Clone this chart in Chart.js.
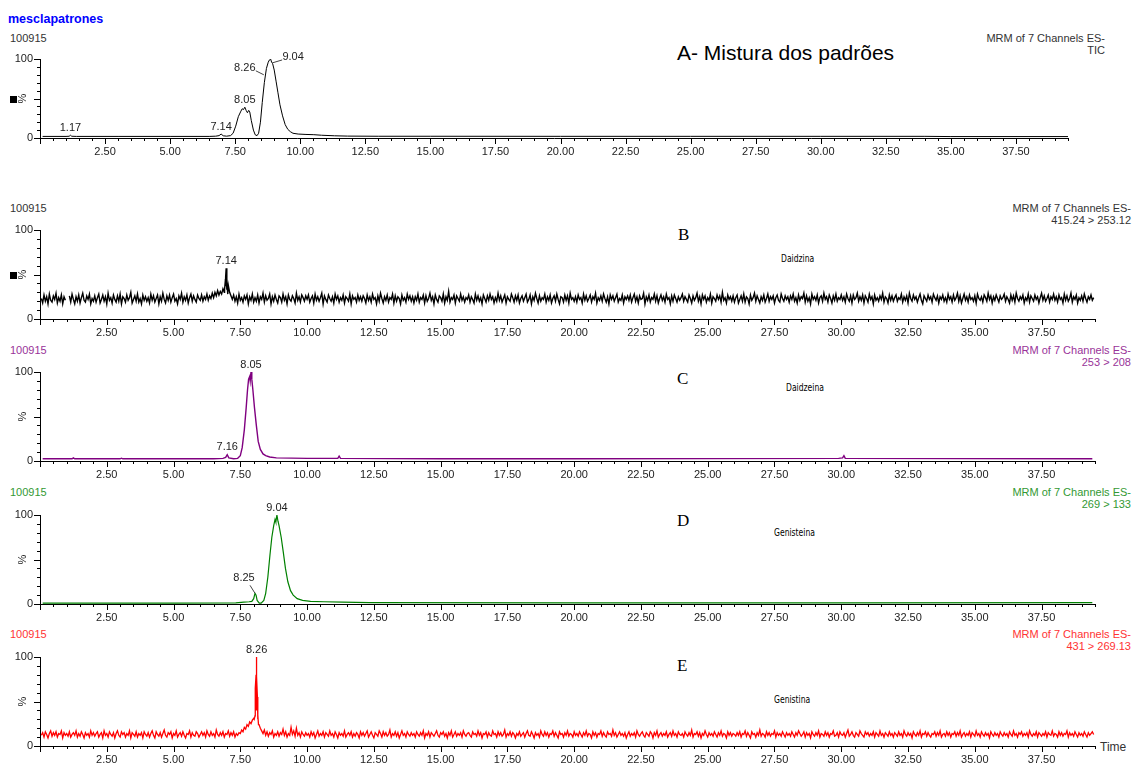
<!DOCTYPE html>
<html>
<head>
<meta charset="utf-8">
<script src="https://cdn.jsdelivr.net/npm/chart.js@4/dist/chart.umd.min.js"></script>
<style>
  body { margin: 0; background: #fff; width: 1132px; height: 764px; position: relative; overflow: hidden;
         font-family: "Liberation Sans", Arial, sans-serif; }
  .t { position: absolute; white-space: nowrap; font-size: 11px; line-height: 12px; color: #333; }
  .r { text-align: right; }
  .big { font-size: 21px; line-height: 22px; color: #000; }
  .letter { font-family: "Liberation Serif", "Times New Roman", serif; font-size: 17px; line-height: 18px; color: #000; }
  .cmp { font-family: "Liberation Sans Narrow", "DejaVu Sans Condensed", sans-serif; font-size: 10px; color: #000; transform: scaleX(0.85); transform-origin: left; }
  canvas { position: absolute; left: 0; }
</style>
</head>
<body>

<div class="t" style="left:8px;top:13px;font-size:12.5px;font-weight:bold;color:#0000ff">mesclapatrones</div>
<div class="t" style="left:10px;top:32px">100915</div>
<div class="t big" style="left:677px;top:42px">A- Mistura dos padrões</div>
<div class="t r" style="right:27px;top:32px">MRM of 7 Channels ES-<br>TIC</div>

<div class="t" style="left:10px;top:202px">100915</div>
<div class="t r" style="right:1px;top:202px">MRM of 7 Channels ES-<br>415.24 &gt; 253.12</div>
<div class="t letter" style="left:678px;top:226px">B</div>
<div class="t cmp" style="left:781px;top:253px">Daidzina</div>

<div class="t" style="left:10px;top:344px;color:#993399">100915</div>
<div class="t r" style="right:1px;top:344px;color:#993399">MRM of 7 Channels ES-<br>253 &gt; 208</div>
<div class="t letter" style="left:677px;top:370px">C</div>
<div class="t cmp" style="left:786px;top:382px">Daidzeina</div>

<div class="t" style="left:10px;top:486px;color:#339933">100915</div>
<div class="t r" style="right:1px;top:486px;color:#339933">MRM of 7 Channels ES-<br>269 &gt; 133</div>
<div class="t letter" style="left:677px;top:512px">D</div>
<div class="t cmp" style="left:774px;top:527px">Genisteina</div>

<div class="t" style="left:10px;top:628px;color:#ff3333">100915</div>
<div class="t r" style="right:1px;top:628px;color:#ff3333">MRM of 7 Channels ES-<br>431 &gt; 269.13</div>
<div class="t letter" style="left:677px;top:657px">E</div>
<div class="t cmp" style="left:774px;top:694px">Genistina</div>
<div class="t" style="left:1100px;top:741px;font-size:12px">Time</div>

<canvas id="cA"></canvas>
<canvas id="cB"></canvas>
<canvas id="cC"></canvas>
<canvas id="cD"></canvas>
<canvas id="cE"></canvas>

<script>
// time axis
const timeMin = 0;
const timeMax = 39.5;
const noiseStart = 0.05;   // first scan of the noisy traces
const noiseStep = 0.05;

// A - TIC
const aTime = [0.1, 1.0, 1.12, 1.17, 1.22, 1.4, 3, 5, 6.5, 6.75, 6.88, 6.96, 7.04, 7.17, 7.32, 7.42, 7.52, 7.62, 7.72, 7.77,
  7.82, 7.87, 7.92, 7.97, 8.02, 8.06, 8.12, 8.2, 8.27, 8.34, 8.4, 8.47, 8.54, 8.62, 8.7, 8.77, 8.82, 8.86, 8.9, 8.94,
  9.0, 9.07, 9.14, 9.22, 9.32, 9.42, 9.52, 9.62, 9.72, 9.92, 10.22, 10.52, 10.82, 11.32, 11.82, 13, 15, 20, 25, 30, 34, 35, 39.5];
const aVal = [2, 2, 2.2, 3.5, 2.2, 2, 2, 2, 2, 2.3, 3, 5, 2.8, 2.3, 3, 6, 15, 27, 34, 37,
  36, 39, 35, 32, 35, 33, 22, 10, 4, 3, 6, 20, 45, 70, 88, 96, 99, 100, 96, 94,
  86, 72, 58, 42, 28, 17, 11, 8, 6, 5, 4.5, 4.2, 3.5, 2.8, 2.4, 2.2, 2.2, 2.1, 2.1, 2.1, 2.1, 1.8, 1.8];

// B - 415.24 > 253.12 (Daidzina), one value per 0.05 min, 2 min per row
const bNoise = [
  23,18,27,20,25,17,28,21,19,26,22,29,18,24,20,27,17,25,21,null,null,26,19,28,22,17,25,20,27,18,24,29,21,19,26,22,28,17,23,20,
  26,19,24,28,18,22,27,20,25,17,29,21,24,18,27,22,19,26,20,28,17,25,23,19,27,21,24,30,18,22,26,20,28,19,23,17,27,21,25,20,
  24,18,28,21,26,19,23,27,17,25,20,29,22,18,26,21,27,19,24,28,20,23,17,26,22,29,19,25,21,27,18,24,28,20,26,22,19,27,23,21,
  27,20,25,22,28,21,26,23,29,24,30,26,32,27,31,28,34,30,37,33,38,30,26,22,27,20,25,18,28,21,24,19,26,22,27,17,25,21,28,19,
  24,20,27,18,25,22,29,19,26,21,23,28,17,25,20,27,22,18,26,24,19,28,21,25,17,27,22,20,26,23,18,29,21,25,19,27,24,20,26,22,
  27,19,23,26,18,28,21,25,20,24,29,17,26,22,19,27,23,20,25,18,28,22,26,19,24,21,27,18,25,23,20,28,17,26,22,24,19,27,21,25,
  20,26,23,18,27,21,25,19,28,22,24,17,26,20,29,23,18,25,21,27,19,24,22,28,18,26,20,25,23,17,27,21,24,19,28,22,26,20,25,18,
  25,21,28,19,24,22,27,18,26,20,23,29,21,25,17,27,22,19,26,24,20,28,18,25,21,31,19,24,22,27,18,26,23,20,28,21,25,19,24,22,
  27,19,25,22,18,28,21,26,20,24,17,27,23,19,26,21,28,22,25,18,24,20,29,21,26,19,23,27,18,25,22,20,28,24,19,26,21,27,18,23,
  26,20,24,28,19,22,27,17,25,21,29,23,18,26,20,24,22,28,19,25,21,27,18,23,26,20,28,22,17,25,24,19,27,21,26,18,29,22,24,20,
  25,19,27,22,24,18,28,21,26,20,23,27,19,25,22,29,18,24,21,26,20,28,23,19,25,17,27,22,26,20,24,28,19,23,21,27,18,25,22,26,
  21,27,19,24,28,20,25,18,26,22,23,29,17,25,21,27,19,24,22,28,20,26,18,23,27,21,25,19,28,22,24,17,26,20,27,23,19,25,21,24,
  28,20,25,22,19,27,23,18,26,21,24,29,20,25,17,27,22,26,19,24,21,28,18,25,23,20,27,22,26,19,30,21,24,18,27,22,25,20,26,19,
  24,27,18,22,26,20,28,19,25,23,17,27,21,24,29,20,26,22,18,25,21,27,19,23,28,20,25,22,26,18,24,27,21,19,28,23,20,26,22,25,
  19,26,22,28,20,24,18,27,21,25,23,29,19,26,20,24,17,28,22,25,21,27,18,24,26,20,29,22,25,19,27,23,18,26,21,28,20,24,22,27,
  21,25,19,28,23,20,26,18,27,22,24,29,20,25,21,27,18,26,23,19,28,22,25,17,27,21,24,20,26,22,29,19,25,23,18,27,21,26,20,24,
  27,20,24,22,28,19,25,21,26,18,29,23,20,27,22,25,19,24,28,21,17,26,23,20,27,22,25,19,28,24,21,26,18,25,22,27,20,24,19,28,
  22,25,19,27,21,24,29,20,26,18,23,28,21,25,19,27,22,24,20,26,18,28,23,21,25,19,27,24,20,29,22,26,18,25,21,27,23,19,26,22,
  24,28,20,25,22,18,27,21,26,19,29,23,20,25,22,27,18,24,21,28,19,26,23,20,27,22,25,18,24,29,21,26,20,23,27,19,25,22,28,21,
  25,19,27,22,24,18,28,21,26,20,23,29,19,25,22,27,18,24,21,26,20,28,23,19,25,22,27,21,24];
const bPeakT = [6.91, 6.93, 6.95, 6.97, 6.99, 7.01, 7.03];
const bPeakV = [33, 40, 47, 57, 42, 36, 28];

// C - 253 > 208 (Daidzeina)
const cTime = [0.1, 1.2, 1.25, 1.3, 3.0, 3.05, 3.1, 6.5, 6.85, 6.95, 7.01, 7.07, 7.25, 7.4, 7.5, 7.57, 7.65, 7.72, 7.77, 7.81,
  7.85, 7.87, 7.9, 7.93, 7.97, 8.03, 8.1, 8.17, 8.25, 8.35, 8.45, 8.6, 8.85, 10, 11.15, 11.2, 11.25, 15, 20, 29.9,
  30.05, 30.1, 30.15, 39.4];
const cVal = [2.5, 2.5, 3.5, 2.5, 2.5, 3.2, 2.5, 2.5, 3, 4, 7, 3.5, 2.5, 3, 6, 15, 35, 60, 80, 92,
  95, 90, 100, 92, 80, 60, 40, 22, 13, 8, 6, 4.5, 3.5, 3, 3, 5.5, 3, 2.5, 2.5, 3,
  3.5, 6, 3, 2.5];

// D - 269 > 133 (Genisteina)
const dTime = [0.1, 5, 7.33, 7.63, 7.83, 7.93, 8.0, 8.05, 8.09, 8.13, 8.21, 8.28, 8.38, 8.45, 8.53, 8.61, 8.68, 8.75, 8.8, 8.83,
  8.87, 8.91, 8.95, 9.03, 9.11, 9.19, 9.28, 9.38, 9.48, 9.63, 9.83, 10.13, 10.63, 11.33, 12.33, 20, 30, 39.4];
const dVal = [1, 1, 1.2, 2, 2.5, 3, 6, 12, 10, 4, 1, 1, 4, 12, 30, 55, 75, 88, 95, 92,
  100, 93, 88, 75, 58, 40, 25, 15, 10, 6, 4, 3, 2.5, 2, 1.5, 1.2, 1.2, 1.5];

// E - 431 > 269.13 (Genistina), one value per 0.05 min, 2 min per row
const eNoise = [
  12,15,10,16,13,9,14,17,11,15,12,16,10,14,13,17,9,15,12,14,11,16,10,13,15,12,17,10,14,11,16,13,9,15,12,14,10,17,12,15,
  11,14,16,10,13,15,9,17,12,14,10,16,13,11,15,9,14,17,12,10,16,13,15,10,14,12,17,9,15,13,11,16,10,14,12,15,9,16,13,11,
  15,10,14,17,12,9,16,13,11,15,10,14,18,12,10,15,13,16,9,14,12,17,10,13,15,11,16,12,9,14,13,17,10,15,12,11,16,14,10,13,
  16,12,15,10,17,13,11,16,12,14,10,18,13,11,15,12,16,10,14,13,17,11,15,12,16,10,14,12,15,14,18,16,21,19,24,22,27,25,29,31,
  34,40,30,24,20,17,14,18,12,16,11,15,13,17,10,14,12,16,11,15,13,19,12,16,10,14,12,21,13,17,11,20,12,15,10,16,13,11,15,12,
  14,10,16,12,15,9,13,17,11,14,12,16,10,15,13,11,17,12,14,10,16,13,9,15,12,14,11,17,10,13,15,12,16,10,14,11,15,13,9,16,
  12,15,11,14,17,10,13,16,12,9,15,13,11,17,14,10,16,12,15,11,13,18,10,14,12,16,11,15,9,13,17,12,14,10,16,13,11,15,12,14,
  10,16,13,11,15,12,17,9,14,12,16,10,15,13,11,14,17,12,10,15,13,16,11,14,9,15,12,17,10,13,16,11,14,12,15,10,17,13,11,14,
  15,12,10,16,13,14,11,17,12,15,9,14,13,16,10,15,12,11,17,13,14,10,16,12,15,11,13,18,10,14,12,16,11,15,13,9,14,12,16,11,
  13,15,10,14,17,12,11,16,13,9,15,12,14,10,17,13,11,16,12,15,10,14,13,17,11,15,12,9,16,13,14,10,15,12,17,11,14,13,10,16,
  12,14,11,16,13,10,15,12,17,11,14,13,9,16,12,15,10,14,13,17,11,15,12,10,16,13,14,11,18,12,15,10,13,16,12,14,11,15,9,13,
  16,11,14,12,15,10,17,13,11,14,16,12,10,15,13,11,16,14,9,15,12,17,10,13,15,11,14,12,16,10,13,15,11,17,12,14,10,16,13,12,
  14,10,16,13,11,15,12,18,10,14,13,16,11,15,9,14,12,17,13,10,15,12,14,11,16,13,10,15,12,17,11,14,13,9,16,12,15,11,14,13,
  11,15,12,16,10,14,13,17,11,15,12,9,16,13,14,10,15,12,18,11,14,13,10,16,12,15,11,14,13,17,10,15,12,14,11,16,13,10,15,12,
  14,11,16,13,10,15,12,17,14,11,13,16,10,15,12,14,9,16,13,11,15,12,17,10,14,13,11,16,12,15,10,14,13,17,11,12,15,10,16,13,
  12,15,10,14,18,11,13,16,12,10,15,13,11,17,14,12,10,16,13,15,11,14,12,16,10,15,13,11,17,12,14,10,15,13,11,16,12,14,10,15,
  13,11,16,12,14,10,17,13,11,15,12,14,9,16,13,11,15,12,17,10,14,13,16,11,15,12,10,14,13,16,11,15,12,17,10,13,14,11,16,12,
  15,10,14,13,16,11,15,12,17,10,13,15,11,14,12,16,10,15,13,11,17,12,14,10,16,13,11,15,12,14,9,16,13,11,15,12,14,10,16,13,
  11,15,12,14,10,16,13,11,17,12,14,10,15,13,16,11,14,12,15,10,17,13,11,14,12,16,10,15,13,11,14,12,16,10,15,13,12,17,11,14,
  13,10,16,12,15,11,14,13,17,10,15,12,14,11,16,13,10,15,12,14,11,16,13,10,15,12,14,16,13];
const ePeakT = [8.02, 8.05, 8.07, 8.09, 8.1, 8.11, 8.12, 8.14, 8.16, 8.18];
const ePeakV = [30, 50, 65, 80, 90, 100, 78, 55, 35, 24];

// peak labels: retention time text, anchor time, anchor height
const aPeakText = ['1.17', '7.14', '8.05', '8.26', '9.04'];
const aPeakT = [1.17, 6.96, 7.87, 8.6, 8.92];
const aPeakV = [3.5, 5, 39, 80, 95];
const bPeakText = ['7.14'];
const bLabelT = [6.97];
const bLabelV = [57];
const cPeakText = ['7.16', '8.05'];
const cPeakT = [7.01, 7.9];
const cPeakV = [7, 100];
const dPeakText = ['8.25', '9.04'];
const dPeakT = [8.05, 8.87];
const dPeakV = [12, 100];
const ePeakText = ['8.26'];
const eLabelT = [8.11];
const eLabelV = [100];

// label offsets (layout only)
const leaders = {
  'A8.26': { dx: -19, dy: -7, lx: -8, ly: -4 },
  'A9.04': { dx: 21, dy: -6, lx: 10, ly: -3 },
  'D8.25': { dx: -11, dy: -15, lx: -5, ly: -8 }
};

function pts(t, v) { return t.map((x, i) => ({ x: x, y: v[i] })); }
function noisePts(vals, peakT, peakV) {
  const p = vals.map((v, i) => ({ x: +(noiseStart + i * noiseStep).toFixed(2), y: v }));
  return p.concat(pts(peakT, peakV)).sort((a, b) => a.x - b.x);
}
function peaks(id, text, t, v) {
  return text.map((s, i) => Object.assign({ text: s, t: t[i], v: v[i] }, leaders[id + s] || {}));
}

const tickPlugin = {
  id: 'msTicks',
  afterDraw(chart, args, opts) {
    const ctx = chart.ctx, a = chart.chartArea, xs = chart.scales.x, ys = chart.scales.y;
    ctx.save();
    ctx.strokeStyle = '#000';
    ctx.lineWidth = 1;
    ctx.beginPath();
    xs.ticks.forEach(t => {
      const px = Math.round(xs.getPixelForValue(t.value)) + 0.5;
      const len = Math.abs(t.value / 2.5 - Math.round(t.value / 2.5)) < 1e-6 ? 6 : 3;
      ctx.moveTo(px, a.bottom); ctx.lineTo(px, a.bottom + len);
    });
    ys.ticks.forEach(t => {
      const py = Math.round(ys.getPixelForValue(t.value)) + 0.5;
      const len = t.value % 50 === 0 ? 6 : 3;
      ctx.moveTo(a.left - len, py); ctx.lineTo(a.left, py);
    });
    ctx.stroke();
    // % label at mid axis
    const pm = ys.getPixelForValue(50);
    ctx.fillStyle = '#222';
    ctx.font = '11px "Liberation Sans", Arial, sans-serif';
    ctx.translate(a.left - 17, pm);
    ctx.rotate(-Math.PI / 2);
    ctx.textAlign = 'center';
    ctx.textBaseline = 'middle';
    ctx.fillText('%', 0, 0);
    ctx.restore();
    if (opts.square) {
      ctx.save();
      ctx.fillStyle = '#000';
      ctx.fillRect(10, Math.round(pm) - 3, 7, 7);
      ctx.restore();
    }
    // peak labels
    ctx.save();
    ctx.font = '11px "Liberation Sans", Arial, sans-serif';
    ctx.fillStyle = '#222';
    ctx.strokeStyle = '#444';
    ctx.textAlign = 'center';
    (opts.peaks || []).forEach(p => {
      const px = xs.getPixelForValue(p.t), py = ys.getPixelForValue(p.v);
      if (p.dx !== undefined) {
        ctx.textBaseline = 'middle';
        ctx.fillText(p.text, px + p.dx, py + p.dy);
        ctx.beginPath();
        ctx.moveTo(px + p.lx, py + p.ly);
        ctx.lineTo(px, py);
        ctx.stroke();
      } else {
        ctx.textBaseline = 'bottom';
        ctx.fillText(p.text, px, py - 2);
      }
    });
    ctx.restore();
  }
};

const TOPM = 24;
function panel(id, top, bottom, right, color, width, data, pk, square) {
  const cv = document.getElementById(id);
  const h = bottom - top + TOPM + 24;
  cv.width = 1132; cv.height = h;
  cv.style.top = (top - TOPM) + 'px';
  new Chart(cv, {
    type: 'line',
    data: { datasets: [{ data: data, borderColor: color, borderWidth: width, pointRadius: 0, tension: 0, spanGaps: false }] },
    options: {
      responsive: false, animation: false, events: [],
      layout: { padding: { top: TOPM, right: 1132 - right, left: 0, bottom: 0 } },
      plugins: { legend: { display: false }, tooltip: { enabled: false }, msTicks: { peaks: pk, square: square } },
      scales: {
        x: {
          type: 'linear', min: timeMin, max: timeMax,
          afterFit: s => { s.height = 24; },
          border: { display: true, color: '#000', width: 1 },
          grid: { display: true, drawOnChartArea: false, tickLength: 6, tickColor: 'rgba(0,0,0,0)' },
          ticks: {
            stepSize: 0.5, autoSkip: false, maxRotation: 0, padding: 1, color: '#222',
            font: { family: '"Liberation Sans", Arial, sans-serif', size: 11 },
            callback: v => (v > 0 && Math.abs(v / 2.5 - Math.round(v / 2.5)) < 1e-6) ? v.toFixed(2) : ''
          }
        },
        y: {
          min: 0, max: 100,
          afterFit: s => { s.width = 40; },
          border: { display: true, color: '#000', width: 1 },
          grid: { display: true, drawOnChartArea: false, tickLength: 6, tickColor: 'rgba(0,0,0,0)' },
          ticks: {
            stepSize: 10, autoSkip: false, padding: 1, color: '#222',
            font: { family: '"Liberation Sans", Arial, sans-serif', size: 11 },
            callback: v => (v === 0 || v === 100) ? String(v) : ''
          }
        }
      }
    },
    plugins: [tickPlugin]
  });
}

panel('cA', 59, 138, 1068, '#000', 1, pts(aTime, aVal), peaks('A', aPeakText, aPeakT, aPeakV), true);
panel('cB', 230, 319, 1095, '#000', 1.4, noisePts(bNoise, bPeakT, bPeakV), peaks('B', bPeakText, bLabelT, bLabelV), true);
panel('cC', 372, 461, 1095, '#800080', 1.4, pts(cTime, cVal), peaks('C', cPeakText, cPeakT, cPeakV), false);
panel('cD', 515, 604, 1095, '#008000', 1.2, pts(dTime, dVal), peaks('D', dPeakText, dPeakT, dPeakV), false);
panel('cE', 657, 746, 1095, '#ff0000', 1.3, noisePts(eNoise, ePeakT, ePeakV), peaks('E', ePeakText, eLabelT, eLabelV), false);
</script>
</body>
</html>
